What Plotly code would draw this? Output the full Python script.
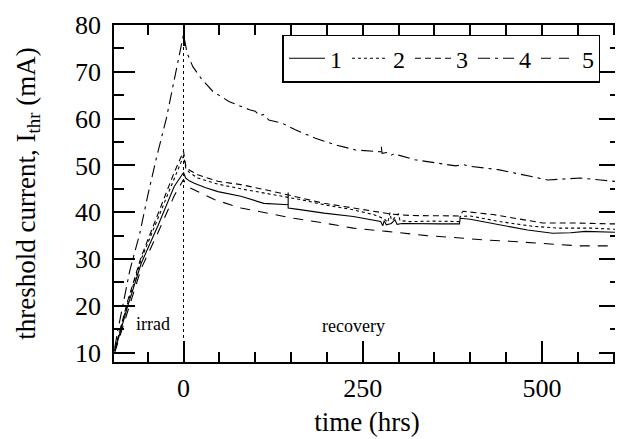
import plotly.graph_objects as go

# ---- data ----
t1 = [-96, -78, -59, -36, -13, 0, 3, 8, 15, 30, 48, 80, 112, 146, 146, 146, 160, 196, 237, 275,
      278, 280, 283, 290, 295, 298, 305, 330, 360, 385, 386, 400, 441, 480, 515, 540, 561, 585, 608]
v1 = [10.3, 19.9, 29.1, 37.0, 45.5, 48.5, 47.3, 46.7, 46.2, 45.3, 44.4, 43.4, 41.9, 41.6, 44.2, 40.9,
      40.6, 39.8, 39.1, 38.0, 37.1, 38.2, 37.3, 37.6, 38.4, 37.4, 37.6, 37.5, 37.5, 37.5, 38.7, 38.5,
      37.3, 36.2, 35.5, 35.6, 35.9, 35.8, 35.7]

t2 = [-96, -78, -59, -36, -13, 0, 3, 8, 20, 48, 80, 126, 163, 196, 237, 265, 280, 285, 288, 290,
      292, 300, 302, 316, 350, 385, 386, 400, 441, 487, 524, 571, 608]
v2 = [10.5, 20.5, 30.0, 38.5, 47.2, 52.0, 49.5, 48.5, 47.3, 46.0, 45.0, 43.7, 42.7, 41.6, 40.5,
      39.5, 38.6, 37.8, 39.9, 38.3, 38.4, 39.7, 38.2, 38.0, 38.1, 38.0, 39.1, 39.2, 38.0, 37.0,
      36.6, 36.6, 36.3]

t3 = [-96, -78, -59, -36, -13, 0, 3, 8, 20, 48, 80, 126, 163, 196, 237, 265, 290, 316, 350, 385,
      390, 432, 501, 548, 594, 608]
v3 = [10.5, 21.0, 30.5, 39.5, 48.5, 53.0, 50.0, 49.0, 48.0, 46.6, 45.9, 44.4, 43.0, 41.9, 40.9,
      40.2, 39.6, 39.3, 39.2, 39.2, 40.2, 39.5, 37.7, 37.7, 37.5, 37.5]

t4 = [-96, -92, -75, -61, -50, -38, -24, -12.5, 0, 5, 13, 24.5, 41, 64, 92, 100, 106, 112, 119,
      138, 156, 184, 212, 240, 270, 276, 276, 277, 285, 290, 295, 300, 323, 350, 380, 390, 400,
      439, 476, 508, 531, 554, 582, 608]
v4 = [11.0, 14.5, 27.5, 35.5, 43.5, 51.5, 60.0, 68.5, 78.0, 74.0, 71.1, 68.6, 65.8, 63.6, 61.9,
      61.6, 60.6, 60.9, 59.7, 59.0, 57.6, 55.8, 54.4, 53.3, 53.0, 52.9, 54.0, 52.6, 52.8, 52.2,
      52.6, 52.2, 51.2, 50.6, 49.9, 50.2, 49.8, 49.1, 48.0, 46.9, 47.1, 47.3, 46.9, 46.5]

t5 = [-96, -78, -59, -36, -13, 0, 3, 8, 20, 43, 80, 126, 154, 196, 237, 284, 311, 339, 386, 418,
      455, 515, 552, 608]
v5 = [10.0, 19.0, 28.0, 35.5, 43.5, 47.0, 46.0, 45.3, 44.4, 42.7, 40.9, 39.5, 38.7, 37.7, 36.6,
      35.9, 35.5, 35.0, 34.5, 34.1, 33.8, 33.1, 32.8, 32.8]

series_names = ["1", "2", "3", "4", "5"]
series_dash = ["solid", "dot", "6px,4px", "12px,5px,3px,5px", "10px,8px"]
irrad_end = 0
x_range = [-97, 609]
y_range = [8, 80]

FONT = "'Liberation Serif', 'Times New Roman', Times, 'DejaVu Serif', serif"

fig = go.Figure()
for name, tx, vy, dash in zip(series_names, [t1, t2, t3, t4, t5], [v1, v2, v3, v4, v5], series_dash):
    fig.add_trace(go.Scatter(x=tx, y=vy, mode="lines", name=name,
                             line=dict(color="black", width=1.1, dash=dash)))

fig.add_shape(type="line", xref="x", yref="paper", x0=irrad_end, x1=irrad_end, y0=0, y1=1,
              line=dict(color="black", width=1, dash="dot"))

fig.add_annotation(x=-43, y=16.2, text="irrad", showarrow=False,
                   font=dict(family=FONT, size=18, color="black"))
fig.add_annotation(x=237, y=15.6, text="recovery", showarrow=False,
                   font=dict(family=FONT, size=18, color="black"))

axis_common = dict(showline=True, linecolor="black", linewidth=1.5, mirror="ticks",
                   ticks="inside", ticklen=21, tickwidth=1.5, tickcolor="black",
                   showgrid=False, zeroline=False,
                   tickfont=dict(family=FONT, size=26, color="black"))

fig.update_xaxes(range=x_range, tick0=0, dtick=250,
                 minor=dict(ticks="inside", ticklen=10, tickwidth=1.5, tickcolor="black", dtick=50, tick0=0),
                 title=dict(text="time (hrs)", font=dict(family=FONT, size=27, color="black"), standoff=10),
                 ticklabelstandoff=2, **axis_common)
fig.update_yaxes(range=y_range, tick0=0, dtick=10,
                 minor=dict(ticks="inside", ticklen=10, tickwidth=1.5, tickcolor="black", dtick=5, tick0=0),
                 title=dict(text="threshold current, I<sub>thr</sub> (mA)",
                            font=dict(family=FONT, size=27, color="black"), standoff=32),
                 ticklabelstandoff=6, **axis_common)

# the page adds an 8px body margin, so the figure is 8px smaller than the window
fig.update_layout(
    width=615, height=431,
    margin=dict(l=106, r=1, t=17, b=77),
    plot_bgcolor="white", paper_bgcolor="white",
    font=dict(family=FONT, color="black"),
    legend=dict(orientation="h", x=0.333, y=0.9, xanchor="left", yanchor="middle",
                bordercolor="black", borderwidth=1.5, bgcolor="white",
                font=dict(family=FONT, size=24, color="black"), itemwidth=36,
                traceorder="normal"),
)

fig.write_html("out.html")
